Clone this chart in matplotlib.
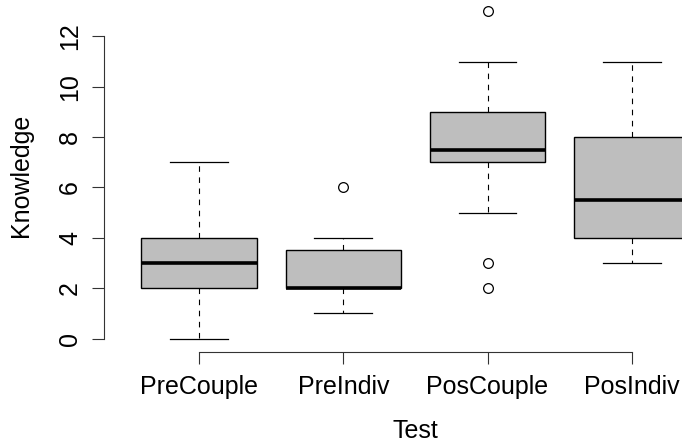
import matplotlib.pyplot as plt

groups = ['PreCouple', 'PreIndiv', 'PosCouple', 'PosIndiv']
whisker_lo = [0, 1, 5, 3]
q1 = [2, 2, 7, 4]
medians = [3, 2, 7.5, 5.5]
q3 = [4, 3.5, 9, 8]
whisker_hi = [7, 4, 11, 11]
outliers = [[], [6], [13, 3, 2], []]

plt.rcParams['font.family'] = ['Liberation Sans', 'DejaVu Sans']


def make_stats():
    stats = []
    for i in range(len(groups)):
        stats.append({'label': groups[i], 'whislo': whisker_lo[i], 'q1': q1[i],
                      'med': medians[i], 'q3': q3[i], 'whishi': whisker_hi[i],
                      'fliers': outliers[i]})
    return stats


fig = plt.figure(figsize=(6.82, 4.44), dpi=100)
# plot region runs past the right (and top) edge, like the reference crop
ax = fig.add_axes([0.1522, 0.2081, 0.9138, 0.796])

pos = list(range(1, len(groups) + 1))
ax.bxp(make_stats(), positions=pos, widths=0.8, patch_artist=True,
       boxprops=dict(facecolor='#bebebe', edgecolor='black', linewidth=1.0),
       medianprops=dict(color='black', linewidth=2.6, solid_capstyle='butt'),
       whiskerprops=dict(color='black', linewidth=0.8, linestyle=(0, (5, 5))),
       capprops=dict(color='black', linewidth=0.9),
       capwidths=0.4,
       flierprops=dict(marker='o', markerfacecolor='none', markeredgecolor='black',
                       markersize=7, markeredgewidth=0.9))

ax.set_xlim(0.34, 4.66)
ax.set_ylim(-0.52, 13.52)
ax.set_yticks([0, 2, 4, 6, 8, 10, 12])
ax.set_xticks(pos)
ax.set_xticklabels(groups)

for s in ['top', 'right']:
    ax.spines[s].set_visible(False)
ax.spines['left'].set_bounds(0, 12)
ax.spines['bottom'].set_bounds(1, 4)
ax.spines['left'].set_color('#333333')
ax.spines['bottom'].set_color('#333333')

ax.tick_params(axis='both', length=8.6, width=0.8, color='#333333', labelsize=18)
ax.tick_params(axis='y', labelrotation=90, pad=7)
ax.tick_params(axis='x', pad=8)
for t in ax.get_yticklabels():
    t.set_verticalalignment('center')

ax.set_xlabel('Test', fontsize=18, labelpad=15)
ax.set_ylabel('Knowledge', fontsize=18, labelpad=18)

plt.savefig('out.png', dpi=100)
